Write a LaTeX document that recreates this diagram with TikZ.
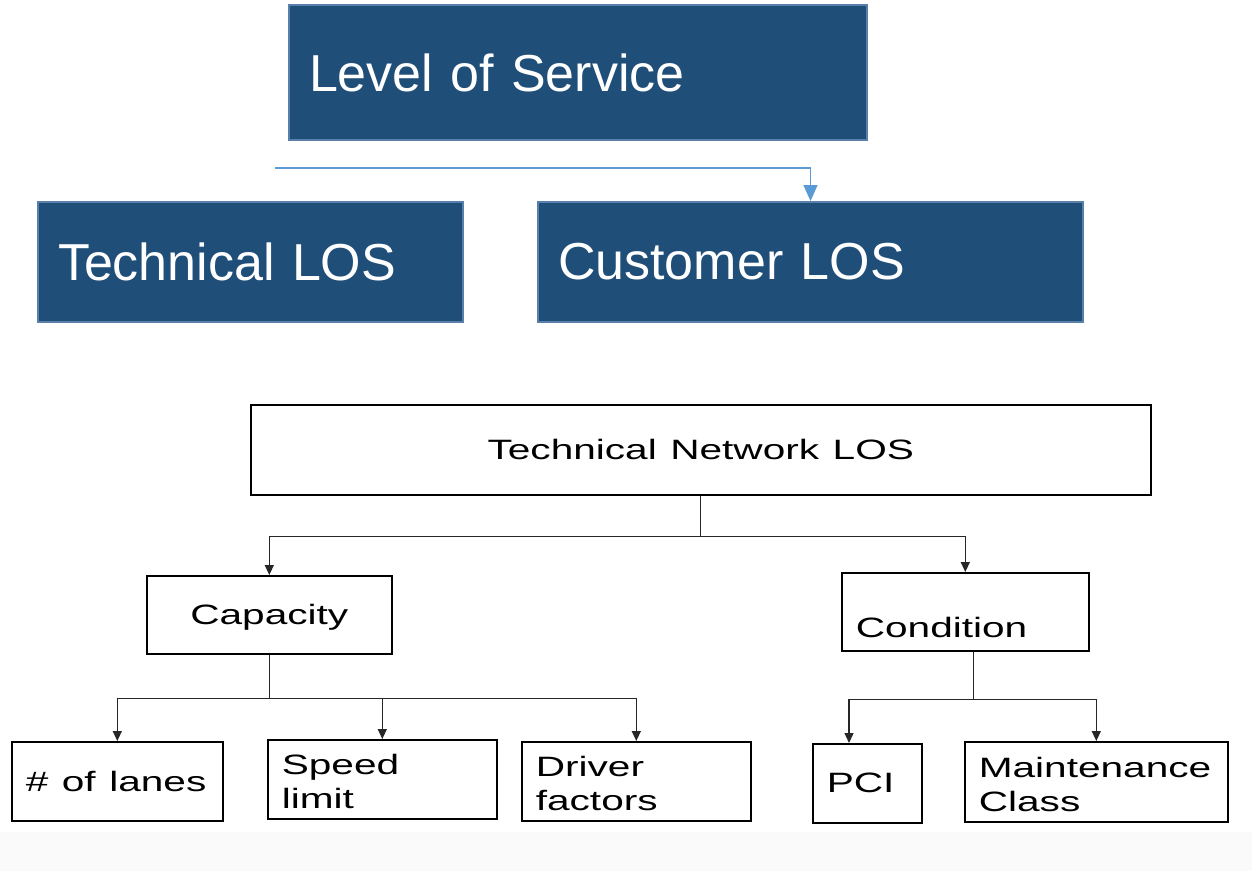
\documentclass[tikz,border=0pt]{standalone}
\usepackage{fontspec}
\setmainfont{Liberation Sans}
\usetikzlibrary{arrows.meta,calc}

\definecolor{losfill}{RGB}{31,78,121}
\definecolor{losedge}{RGB}{88,128,170}
\definecolor{feedblue}{RGB}{91,155,213}

\tikzstyle{losbox}=[draw=losedge, fill=losfill, line width=2, text=white, font=\fontsize{52}{62}\selectfont, align=left, inner xsep=20pt, anchor=north west]
\tikzstyle{treebox}=[draw=black, fill=white, line width=1.6, font=\fontsize{28}{34}\selectfont, align=left, inner xsep=14pt, anchor=north west]
\tikzstyle{pair}=[text height=46pt, text depth=22pt]
\tikzstyle{tree}=[draw=black!85, line width=1.3, -{Triangle[width=9pt,length=10pt]}]
\tikzstyle{feed}=[draw=feedblue, line width=1.5, -{Triangle[width=14pt,length=16pt]}]
\newcommand{\wide}[1]{\scalebox{1.45}[1]{#1}}
\newcommand{\twolines}[2]{\wide{\begin{tabular}{@{}l@{}}#1\\#2\end{tabular}}}

\begin{document}
\begin{tikzpicture}[x=1pt, y=-1pt]
  \useasboundingbox (0,0) rectangle (1252,871);
  \fill[black!2] (0,832) rectangle (1252,871);

  \node[losbox, minimum width=578pt, minimum height=135pt, text width=538pt] (los) at (288,4) {Level of Service};
  \node[losbox, minimum width=425pt, minimum height=120pt, text width=385pt] (tech) at (37,201) {Technical LOS};
  \node[losbox, minimum width=545pt, minimum height=120pt, text width=505pt] (cust) at (537,201) {Customer LOS};
  \coordinate (losfeed) at (275,168);
  \draw[feed] (losfeed) -| (cust.north);

  \node[treebox, align=center, minimum width=900pt, minimum height=90pt, text width=872pt] (tnlos) at (250,404) {\wide{Technical Network LOS}};
  \node[treebox, align=center, minimum width=245pt, minimum height=78pt, text width=217pt, text depth=0pt] (cap) at (146,575) {\wide{Capacity}};
  \node[treebox, minimum width=247pt, minimum height=78pt, text width=219pt, text height=52pt, text depth=0pt] (cond) at (841,572) {\wide{Condition}};

  \node[treebox, minimum width=211pt, minimum height=79pt, text width=183pt] (lanes) at (11,741) {\wide{\# of lanes}};
  \node[treebox, pair, minimum width=229pt, minimum height=79pt, text width=201pt] (speed) at (267,739) {\twolines{Speed}{limit}};
  \node[treebox, pair, minimum width=229pt, minimum height=79pt, text width=201pt] (driver) at (521,741) {\twolines{Driver}{factors}};
  \node[treebox, minimum width=109pt, minimum height=79pt, text width=81pt] (pci) at (812,743) {\wide{PCI}};
  \node[treebox, pair, minimum width=263pt, minimum height=80pt, text width=235pt] (maint) at (964,741) {\twolines{Maintenance}{Class}};

  \draw[tree] (tnlos.south) -- ++(0,41) -| (cap.north);
  \draw[tree] (tnlos.south) -- ++(0,41) -| (cond.north);
  \draw[tree] (cap.south) -- ++(0,44) -| (lanes.north);
  \draw[tree] (cap.south) -- ++(0,44) -| (speed.north);
  \draw[tree] (cap.south) -- ++(0,44) -| (driver.north);
  \draw[tree] ($(cond.south)+(8,0)$) -- ++(0,48) -| ($(pci.north west)+(37,0)$);
  \draw[tree] ($(cond.south)+(8,0)$) -- ++(0,48) -| (maint.north);
\end{tikzpicture}
\end{document}
